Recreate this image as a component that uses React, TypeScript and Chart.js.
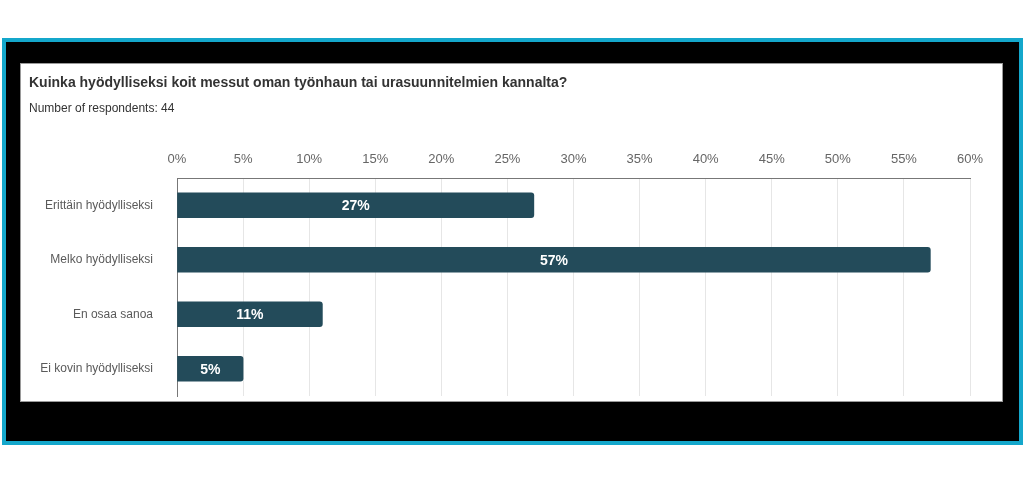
import React, { useEffect, useRef } from "react";
import { Chart, registerables } from "chart.js";

Chart.register(...registerables);

const titleText = "Kuinka hyödylliseksi koit messut oman työnhaun tai urasuunnitelmien kannalta?";
const subtitleText = "Number of respondents: 44";
const categories = ["Erittäin hyödylliseksi", "Melko hyödylliseksi", "En osaa sanoa", "Ei kovin hyödylliseksi"];
const percentValues = [27, 57, 11, 5];
const axisMax = 60;
const axisStep = 5;

const FONT = "'Liberation Sans', Arial, sans-serif";

const valueLabelPlugin = {
  id: "valueLabels",
  afterDatasetsDraw(chart: any) {
    const { ctx } = chart;
    const meta = chart.getDatasetMeta(0);
    ctx.save();
    ctx.fillStyle = "#ffffff";
    ctx.font = `bold 14px ${FONT}`;
    ctx.textAlign = "center";
    ctx.textBaseline = "middle";
    meta.data.forEach((bar: any, i: number) => {
      const { x, y, base } = bar.getProps(["x", "y", "base"], true);
      ctx.fillText(`${percentValues[i]}%`, (x + base) / 2, y + 1);
    });
    ctx.restore();
  },
};

export default function App() {
  const canvasRef = useRef<HTMLCanvasElement | null>(null);

  useEffect(() => {
    if (!canvasRef.current) return;
    const chart = new Chart(canvasRef.current, {
      type: "bar",
      data: {
        labels: categories,
        datasets: [
          {
            data: percentValues,
            backgroundColor: "#234b5a",
            borderRadius: 3,
            borderSkipped: "start",
            barThickness: 25,
          },
        ],
      },
      options: {
        indexAxis: "y",
        animation: false,
        responsive: false,
        maintainAspectRatio: false,
        layout: { padding: { left: 8, right: 32, top: 0, bottom: 5 } },
        plugins: {
          legend: { display: false },
          tooltip: { enabled: false },
          title: {
            display: true,
            text: titleText,
            align: "start",
            color: "#333333",
            font: { family: FONT, size: 14, weight: "bold" },
            padding: { top: 11, bottom: 10 },
          },
          subtitle: {
            display: true,
            text: subtitleText,
            align: "start",
            color: "#333333",
            font: { family: FONT, size: 12 },
            padding: { top: 0, bottom: 0 },
          },
        },
        scales: {
          x: {
            position: "top",
            min: 0,
            max: axisMax,
            ticks: {
              stepSize: axisStep,
              color: "#666666",
              font: { family: FONT, size: 13 },
              padding: 11,
              callback: (v: any) => `${v}%`,
            },
            grid: { color: "#e6e6e6", drawTicks: false },
            border: { display: true, color: "#777777" },
            afterFit: (scale: any) => {
              scale.height = 61.8;
            },
          },
          y: {
            ticks: {
              color: "#5a5a5a",
              font: { family: FONT, size: 12, lineHeight: 0.7 },
              padding: 0,
            },
            grid: { display: false, drawTicks: true, tickLength: 24 },
            border: { display: true, color: "#777777" },
            afterFit: (scale: any) => {
              scale.width = 148;
            },
          },
        },
      },
      plugins: [valueLabelPlugin],
    });
    return () => chart.destroy();
  }, []);

  return (
    <div style={{ position: "absolute", left: 0, top: 0, width: 1024, height: 490, background: "#ffffff", overflow: "hidden" }}>
      <div style={{ position: "absolute", left: 2, top: 38, width: 1021, height: 407, background: "#14a7cb" }} />
      <div style={{ position: "absolute", left: 6, top: 42, width: 1013, height: 399, background: "#000000" }} />
      <div style={{ position: "absolute", left: 20, top: 63, width: 981, height: 337, background: "#ffffff", border: "1px solid #9a9a9a" }}>
        <canvas ref={canvasRef} width={981} height={337} style={{ display: "block", width: 981, height: 337 }} />
      </div>
    </div>
  );
}
